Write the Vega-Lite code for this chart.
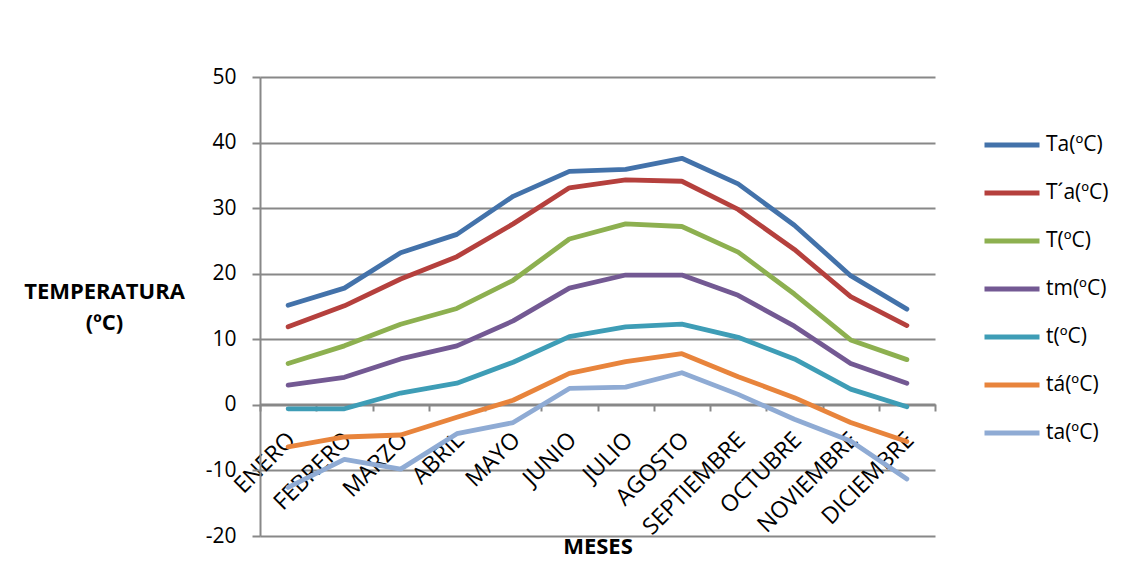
{
  "$schema": "https://vega.github.io/schema/vega-lite/v6.json",
  "width": 675,
  "height": 459,
  "autosize": {"type": "none"},
  "padding": {"left": 260, "top": 77, "right": 196, "bottom": 25},
  "background": "white",
  "config": {"view": {"stroke": null}, "font": "Open Sans"},
  "data": {
    "values": [
      {"mes": "ENERO", "serie": "Ta(ºC)", "valor": 15.2},
      {"mes": "FEBRERO", "serie": "Ta(ºC)", "valor": 17.8},
      {"mes": "MARZO", "serie": "Ta(ºC)", "valor": 23.2},
      {"mes": "ABRIL", "serie": "Ta(ºC)", "valor": 26.0},
      {"mes": "MAYO", "serie": "Ta(ºC)", "valor": 31.8},
      {"mes": "JUNIO", "serie": "Ta(ºC)", "valor": 35.6},
      {"mes": "JULIO", "serie": "Ta(ºC)", "valor": 35.9},
      {"mes": "AGOSTO", "serie": "Ta(ºC)", "valor": 37.6},
      {"mes": "SEPTIEMBRE", "serie": "Ta(ºC)", "valor": 33.7},
      {"mes": "OCTUBRE", "serie": "Ta(ºC)", "valor": 27.4},
      {"mes": "NOVIEMBRE", "serie": "Ta(ºC)", "valor": 19.7},
      {"mes": "DICIEMBRE", "serie": "Ta(ºC)", "valor": 14.6},

      {"mes": "ENERO", "serie": "T´a(ºC)", "valor": 11.9},
      {"mes": "FEBRERO", "serie": "T´a(ºC)", "valor": 15.1},
      {"mes": "MARZO", "serie": "T´a(ºC)", "valor": 19.2},
      {"mes": "ABRIL", "serie": "T´a(ºC)", "valor": 22.6},
      {"mes": "MAYO", "serie": "T´a(ºC)", "valor": 27.6},
      {"mes": "JUNIO", "serie": "T´a(ºC)", "valor": 33.1},
      {"mes": "JULIO", "serie": "T´a(ºC)", "valor": 34.3},
      {"mes": "AGOSTO", "serie": "T´a(ºC)", "valor": 34.1},
      {"mes": "SEPTIEMBRE", "serie": "T´a(ºC)", "valor": 29.8},
      {"mes": "OCTUBRE", "serie": "T´a(ºC)", "valor": 23.7},
      {"mes": "NOVIEMBRE", "serie": "T´a(ºC)", "valor": 16.5},
      {"mes": "DICIEMBRE", "serie": "T´a(ºC)", "valor": 12.1},

      {"mes": "ENERO", "serie": "T(ºC)", "valor": 6.3},
      {"mes": "FEBRERO", "serie": "T(ºC)", "valor": 9.0},
      {"mes": "MARZO", "serie": "T(ºC)", "valor": 12.3},
      {"mes": "ABRIL", "serie": "T(ºC)", "valor": 14.7},
      {"mes": "MAYO", "serie": "T(ºC)", "valor": 19.0},
      {"mes": "JUNIO", "serie": "T(ºC)", "valor": 25.3},
      {"mes": "JULIO", "serie": "T(ºC)", "valor": 27.6},
      {"mes": "AGOSTO", "serie": "T(ºC)", "valor": 27.2},
      {"mes": "SEPTIEMBRE", "serie": "T(ºC)", "valor": 23.3},
      {"mes": "OCTUBRE", "serie": "T(ºC)", "valor": 16.9},
      {"mes": "NOVIEMBRE", "serie": "T(ºC)", "valor": 9.9},
      {"mes": "DICIEMBRE", "serie": "T(ºC)", "valor": 6.9},

      {"mes": "ENERO", "serie": "tm(ºC)", "valor": 3.0},
      {"mes": "FEBRERO", "serie": "tm(ºC)", "valor": 4.2},
      {"mes": "MARZO", "serie": "tm(ºC)", "valor": 7.0},
      {"mes": "ABRIL", "serie": "tm(ºC)", "valor": 9.0},
      {"mes": "MAYO", "serie": "tm(ºC)", "valor": 12.8},
      {"mes": "JUNIO", "serie": "tm(ºC)", "valor": 17.8},
      {"mes": "JULIO", "serie": "tm(ºC)", "valor": 19.8},
      {"mes": "AGOSTO", "serie": "tm(ºC)", "valor": 19.8},
      {"mes": "SEPTIEMBRE", "serie": "tm(ºC)", "valor": 16.7},
      {"mes": "OCTUBRE", "serie": "tm(ºC)", "valor": 12.0},
      {"mes": "NOVIEMBRE", "serie": "tm(ºC)", "valor": 6.3},
      {"mes": "DICIEMBRE", "serie": "tm(ºC)", "valor": 3.3},

      {"mes": "ENERO", "serie": "t(ºC)", "valor": -0.6},
      {"mes": "FEBRERO", "serie": "t(ºC)", "valor": -0.6},
      {"mes": "MARZO", "serie": "t(ºC)", "valor": 1.8},
      {"mes": "ABRIL", "serie": "t(ºC)", "valor": 3.3},
      {"mes": "MAYO", "serie": "t(ºC)", "valor": 6.5},
      {"mes": "JUNIO", "serie": "t(ºC)", "valor": 10.4},
      {"mes": "JULIO", "serie": "t(ºC)", "valor": 11.9},
      {"mes": "AGOSTO", "serie": "t(ºC)", "valor": 12.3},
      {"mes": "SEPTIEMBRE", "serie": "t(ºC)", "valor": 10.3},
      {"mes": "OCTUBRE", "serie": "t(ºC)", "valor": 7.0},
      {"mes": "NOVIEMBRE", "serie": "t(ºC)", "valor": 2.4},
      {"mes": "DICIEMBRE", "serie": "t(ºC)", "valor": -0.3},

      {"mes": "ENERO", "serie": "tá(ºC)", "valor": -6.4},
      {"mes": "FEBRERO", "serie": "tá(ºC)", "valor": -4.9},
      {"mes": "MARZO", "serie": "tá(ºC)", "valor": -4.6},
      {"mes": "ABRIL", "serie": "tá(ºC)", "valor": -1.9},
      {"mes": "MAYO", "serie": "tá(ºC)", "valor": 0.7},
      {"mes": "JUNIO", "serie": "tá(ºC)", "valor": 4.8},
      {"mes": "JULIO", "serie": "tá(ºC)", "valor": 6.6},
      {"mes": "AGOSTO", "serie": "tá(ºC)", "valor": 7.8},
      {"mes": "SEPTIEMBRE", "serie": "tá(ºC)", "valor": 4.3},
      {"mes": "OCTUBRE", "serie": "tá(ºC)", "valor": 1.1},
      {"mes": "NOVIEMBRE", "serie": "tá(ºC)", "valor": -2.7},
      {"mes": "DICIEMBRE", "serie": "tá(ºC)", "valor": -5.6},

      {"mes": "ENERO", "serie": "ta(ºC)", "valor": -12.6},
      {"mes": "FEBRERO", "serie": "ta(ºC)", "valor": -8.3},
      {"mes": "MARZO", "serie": "ta(ºC)", "valor": -9.8},
      {"mes": "ABRIL", "serie": "ta(ºC)", "valor": -4.4},
      {"mes": "MAYO", "serie": "ta(ºC)", "valor": -2.7},
      {"mes": "JUNIO", "serie": "ta(ºC)", "valor": 2.5},
      {"mes": "JULIO", "serie": "ta(ºC)", "valor": 2.7},
      {"mes": "AGOSTO", "serie": "ta(ºC)", "valor": 4.9},
      {"mes": "SEPTIEMBRE", "serie": "ta(ºC)", "valor": 1.6},
      {"mes": "OCTUBRE", "serie": "ta(ºC)", "valor": -2.2},
      {"mes": "NOVIEMBRE", "serie": "ta(ºC)", "valor": -5.5},
      {"mes": "DICIEMBRE", "serie": "ta(ºC)", "valor": -11.3}
    ]
  },
  "mark": {"type": "line", "strokeWidth": 4.8, "strokeCap": "round", "strokeJoin": "round"},
  "encoding": {
    "x": {
      "field": "mes",
      "type": "nominal",
      "sort": ["ENERO", "FEBRERO", "MARZO", "ABRIL", "MAYO", "JUNIO", "JULIO", "AGOSTO", "SEPTIEMBRE", "OCTUBRE", "NOVIEMBRE", "DICIEMBRE"],
      "scale": {"type": "band", "paddingInner": 0, "paddingOuter": 0},
      "axis": {
        "title": "MESES",
        "orient": "bottom",
        "offset": -132,
        "grid": false,
        "labelAngle": -45,
        "labelAlign": "right",
        "labelBaseline": "middle",
        "labelPadding": 25,
        "labelOffset": 3,
        "labelFont": "Open Sans",
        "labelFontSize": 23,
        "labelColor": "#000000",
        "labelLimit": 0,
        "tickBand": "extent",
        "tickSize": 7,
        "tickWidth": 2,
        "tickColor": "#888888",
        "domainColor": "#888888",
        "domainWidth": 2,
        "titleFont": "Open Sans",
        "titleFontSize": 22,
        "titleFontWeight": "bold",
        "titleColor": "#000000",
        "titleY": 142,
        "titleBaseline": "middle"
      }
    },
    "y": {
      "field": "valor",
      "type": "quantitative",
      "scale": {"domain": [-20, 50], "nice": false, "zero": false},
      "axis": {
        "title": ["TEMPERATURA", "(ºC)"],
        "titleAngle": 0,
        "titleX": -156,
        "titleY": 214,
        "titleAlign": "center",
        "titleBaseline": "middle",
        "titleLineHeight": 31,
        "titleFont": "Open Sans",
        "titleFontSize": 22,
        "titleFontWeight": "bold",
        "titleColor": "#000000",
        "values": [-20, -10, 0, 10, 20, 30, 40, 50],
        "labelExpr": "'' + datum.value",
        "grid": true,
        "gridColor": "#888888",
        "gridWidth": 2,
        "domainColor": "#888888",
        "domainWidth": 2,
        "tickColor": "#888888",
        "tickWidth": 2,
        "tickSize": 8,
        "labelPadding": 16,
        "labelFont": "Open Sans",
        "labelFontSize": 21,
        "labelColor": "#000000"
      }
    },
    "color": {
      "field": "serie",
      "type": "nominal",
      "sort": ["Ta(ºC)", "T´a(ºC)", "T(ºC)", "tm(ºC)", "t(ºC)", "tá(ºC)", "ta(ºC)"],
      "scale": {
        "domain": ["Ta(ºC)", "T´a(ºC)", "T(ºC)", "tm(ºC)", "t(ºC)", "tá(ºC)", "ta(ºC)"],
        "range": ["#4372AA", "#B5403D", "#8DB050", "#735993", "#3E9DB6", "#E8843C", "#8FABD4"]
      },
      "legend": {
        "title": null,
        "orient": "none",
        "legendX": 722,
        "legendY": 38,
        "padding": 0,
        "symbolType": "stroke",
        "symbolStrokeWidth": 5,
        "symbolSize": 3025,
        "rowPadding": 8,
        "labelFont": "Open Sans",
        "labelFontSize": 21,
        "labelColor": "#000000",
        "labelOffset": 4
      }
    }
  }
}
